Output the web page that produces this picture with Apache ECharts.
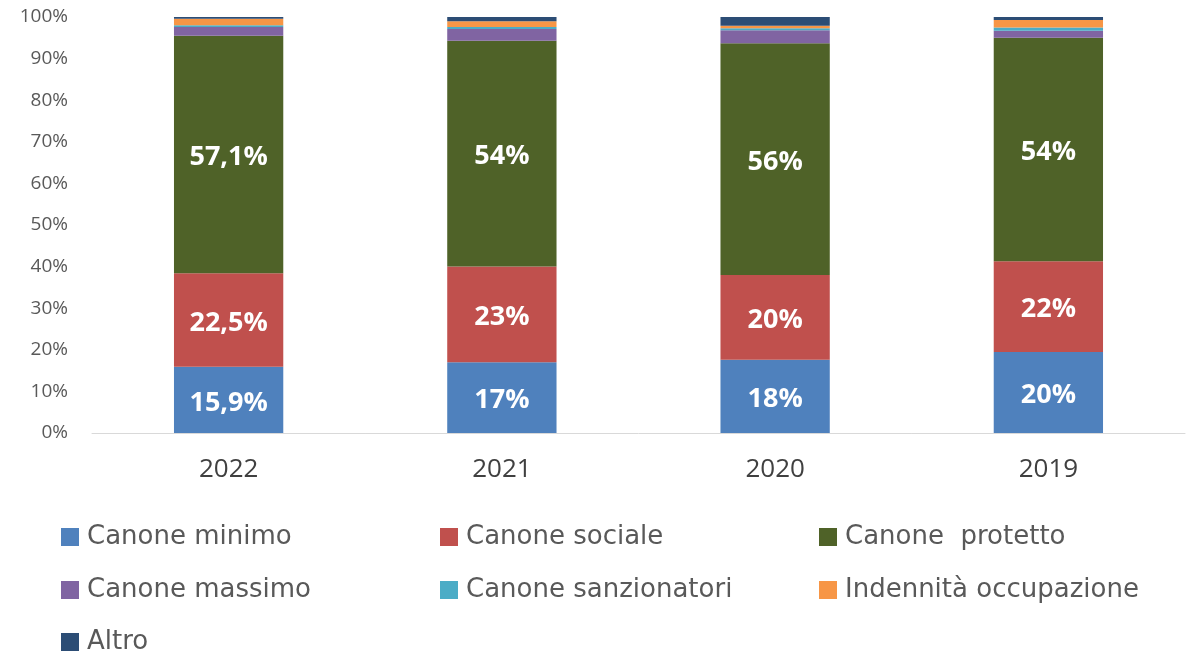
<!DOCTYPE html>
<html><head><meta charset="utf-8">
<script src="https://cdn.jsdelivr.net/npm/echarts@6/dist/echarts.min.js"></script>
<style>html,body{margin:0;padding:0;background:#fff}#c{width:1192px;height:653px}</style>
</head><body><div id="c"></div>
<script>
const categories = ['2022', '2021', '2020', '2019'];
const seriesNames = ['Canone minimo', 'Canone sociale', 'Canone  protetto', 'Canone massimo', 'Canone sanzionatori', 'Indennità occupazione', 'Altro'];
const canoneMinimo = [15.9, 17.0, 17.6, 19.5];
const canoneSociale = [22.5, 23.0, 20.4, 21.8];
const canoneProtetto = [57.1, 54.3, 55.7, 53.7];
const canoneMassimo = [2.1, 2.8, 3.1, 1.7];
const canoneSanzionatori = [0.4, 0.5, 0.5, 0.8];
const indennitaOccupazione = [1.6, 1.4, 0.6, 1.8];
const altro = [0.4, 1.0, 2.1, 0.7];
const labelsMinimo = ['15,9%', '17%', '18%', '20%'];
const labelsSociale = ['22,5%', '23%', '20%', '22%'];
const labelsProtetto = ['57,1%', '54%', '56%', '54%'];
const yTicks = ['0%', '10%', '20%', '30%', '40%', '50%', '60%', '70%', '80%', '90%', '100%'];

const colors = ['#4F81BD', '#C0504D', '#4F6228', '#8064A2', '#4BACC6', '#F79646', '#2C4D75'];
const values = [canoneMinimo, canoneSociale, canoneProtetto, canoneMassimo, canoneSanzionatori, indennitaOccupazione, altro];
const labels = [labelsMinimo, labelsSociale, labelsProtetto, null, null, null, null];

const chart = echarts.init(document.getElementById('c'), null, {renderer: 'canvas'});
const legendText = {fontFamily: 'DejaVu Sans', fontSize: 26, color: '#595959', lineHeight: 26, width: 330, padding: [0, 0, 0, 3]};
function legendRow(top, names) {
  return {orient: 'horizontal', left: 61, top: top, padding: 0, itemWidth: 18, itemHeight: 18, itemGap: 23,
    icon: 'rect', data: names, textStyle: legendText, selectedMode: false};
}
const option = {
  animation: false,
  color: colors,
  grid: {left: 92, right: 7, top: 17, bottom: 220, containLabel: false},
  legend: [
    legendRow(524, ['Canone minimo', 'Canone sociale', 'Canone  protetto']),
    legendRow(577, ['Canone massimo', 'Canone sanzionatori', 'Indennità occupazione']),
    legendRow(629, ['Altro'])
  ],
  xAxis: {type: 'category', data: categories,
    axisLine: {lineStyle: {color: '#D9D9D9', width: 1}}, axisTick: {show: false},
    axisLabel: {fontFamily: 'Open Sans', fontSize: 26, color: '#404040', margin: 24}},
  yAxis: {type: 'value', min: 0, max: 100, interval: 10,
    axisLine: {show: false}, axisTick: {show: false}, splitLine: {show: false},
    axisLabel: {fontFamily: 'Open Sans', fontSize: 19, color: '#595959', margin: 24,
      formatter: function (v) { return yTicks[Math.round(v / 10)]; }}},
  series: seriesNames.map(function (n, i) {
    return {name: n, type: 'bar', stack: 'total', barWidth: '40%', data: values[i],
      itemStyle: {color: colors[i]},
      label: labels[i] ? {show: true, position: 'inside', offset: [0, 3], color: '#fff', fontWeight: 'bold',
        fontFamily: 'Open Sans', fontSize: 27,
        formatter: function (p) { return labels[i][p.dataIndex]; }} : {show: false}};
  })
};
chart.setOption(option);
</script></body></html>
